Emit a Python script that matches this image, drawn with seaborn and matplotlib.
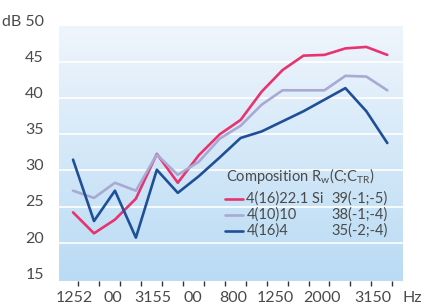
import numpy as np
import pandas as pd
import matplotlib
matplotlib.use("Agg")
import matplotlib.pyplot as plt
import matplotlib.transforms as mtransforms
import seaborn as sns

# third-octave bands, 100 Hz .. 3150 Hz
freqs = ["100", "125", "160", "200", "250", "315", "400", "500",
         "630", "800", "1000", "1250", "1600", "2000", "2500", "3150"]

glass_si = [24.2, 21.3, 23.2, 26.1, 32.3, 28.3, 32.1, 35.0,
            37.0, 40.9, 43.9, 45.9, 46.0, 46.9, 47.1, 46.0]
glass_10 = [27.2, 26.2, 28.3, 27.2, 32.2, 29.4, 31.2, 34.4,
            36.2, 39.1, 41.1, 41.1, 41.1, 43.1, 43.0, 41.1]
glass_4 = [31.5, 23.0, 27.2, 20.7, 30.1, 26.9, 29.2, 31.8,
           34.5, 35.4, 36.8, 38.2, 39.8, 41.4, 38.2, 33.8]

series_names = ["4(16)22.1 Si", "4(10)10", "4(16)4"]
series_ratings = ["39(-1;-5)", "38(-1;-4)", "35(-2;-4)"]
colors = ["#e8336f", "#a9a9d4", "#1f4f97"]

# tick labels as printed under the axis (they overlap in the original)
xlabel_texts = ["1252", "00", "3155", "00", "800", "1250", "2000", "3150", "Hz"]
xlabel_pos = [0.05, 1.89, 3.82, 5.73, 7.64, 9.64, 11.9, 14.3, 16.2]
yticks = [15, 20, 25, 30, 35, 40, 45, 50]

df = pd.DataFrame({
    "band": list(range(len(freqs))) * 3,
    "dB": glass_si + glass_10 + glass_4,
    "glass": [series_names[0]] * 16 + [series_names[1]] * 16 + [series_names[2]] * 16,
})

sns.set_theme(style="white")
plt.rcParams["font.family"] = ["Lato", "DejaVu Sans"]
txt = "#4a4a4a"

fig = plt.figure(figsize=(4.25, 3.08), dpi=100)
ax = fig.add_axes([59 / 425, 27 / 308, 344 / 425, 255 / 308])

# gradient background, pale at the top, blue at the bottom
grad = np.linspace(0, 1, 256).reshape(-1, 1)
cmap = matplotlib.colors.LinearSegmentedColormap.from_list("bg", ["#eff5fc", "#b9dbf4"])
ax.imshow(grad, aspect="auto", cmap=cmap, extent=[0, 1, 0, 1],
          transform=ax.transAxes, zorder=0)

for v in yticks[1:-1]:
    ax.axhline(v, color="white", lw=1.2, zorder=1)

sns.lineplot(data=df, x="band", y="dB", hue="glass", palette=colors,
             hue_order=series_names, linewidth=1.9, legend=False, ax=ax, zorder=3)

ax.set_xlim(-0.67, 15.75)
ax.set_ylim(14.7, 49.9)
for s in ax.spines.values():
    s.set_visible(False)

ax.set_xticks(np.arange(len(freqs)) + 0.24)
ax.set_xticklabels([])
ax.tick_params(axis="x", bottom=True, length=3.5, width=1, color="#333333", direction="out")
ax.set_yticks(yticks)
ax.set_yticklabels([str(v) if v != 50 else "dB 50" for v in yticks])
ax.tick_params(axis="y", left=False, labelsize=11.5, labelcolor=txt, pad=5)
shift = mtransforms.ScaledTranslation(0, 3 / 72, fig.dpi_scale_trans)
for lab in ax.get_yticklabels():
    lab.set_verticalalignment("center")
    lab.set_transform(lab.get_transform() + shift)
ax.set_xlabel("")
ax.set_ylabel("")

trans = mtransforms.blended_transform_factory(ax.transData, ax.transAxes)
for t, p in zip(xlabel_texts, xlabel_pos):
    ax.text(p, -0.065, t, transform=trans, ha="center", va="center",
            fontsize=11.5, color=txt, clip_on=False)

# legend drawn by hand so the ratings line up in a column
ax.text(0.485, 0.41, r"Composition R$_\mathregular{w}$(C;C$_\mathregular{TR}$)",
        transform=ax.transAxes, fontsize=10.5, color=txt, va="center")
for i, (name, rating, c) in enumerate(zip(series_names, series_ratings, colors)):
    yy = 0.322 - i * 0.062
    ax.plot([0.483, 0.535], [yy, yy], color=c, lw=1.9, transform=ax.transAxes)
    ax.text(0.545, yy, name, transform=ax.transAxes, fontsize=10.5,
            color=txt, va="center")
    ax.text(0.955, yy, rating, transform=ax.transAxes, fontsize=10.5,
            color=txt, va="center", ha="right")

fig.savefig("out.png", dpi=100)
